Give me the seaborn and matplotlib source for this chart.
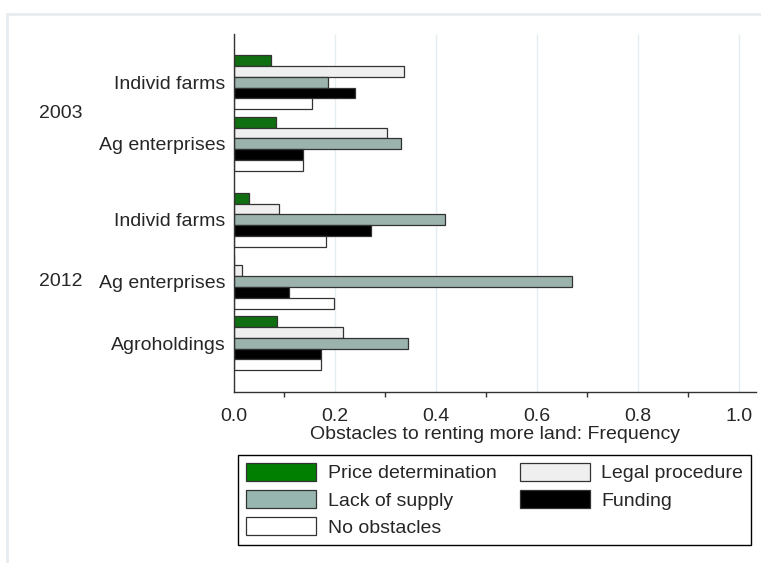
import pandas as pd
import seaborn as sns
import matplotlib.pyplot as plt
from matplotlib.patches import Patch, Rectangle
from matplotlib.ticker import MultipleLocator
from matplotlib.transforms import blended_transform_factory

# группы (сверху вниз) и их позиции по оси y
groups = ['Individ farms', 'Ag enterprises', 'Individ farms', 'Ag enterprises', 'Agroholdings']
group_pos = [0.0, 1.0, 2.23, 3.23, 4.23]
years = ['2003', '2012']

obstacles = ['Price determination', 'Legal procedure', 'Lack of supply', 'Funding', 'No obstacles']
price_determination = [0.073, 0.084, 0.030, 0.0, 0.086]
legal_procedure = [0.337, 0.303, 0.090, 0.017, 0.217]
lack_of_supply = [0.187, 0.331, 0.419, 0.669, 0.346]
funding = [0.241, 0.137, 0.272, 0.110, 0.173]
no_obstacles = [0.156, 0.137, 0.183, 0.199, 0.173]

colors = ['#007f00', '#efefef', '#97b6af', '#000000', '#ffffff']

sns.set_style('white')
plt.rcParams['font.family'] = ['Liberation Sans', 'DejaVu Sans']
plt.rcParams['font.size'] = 14

rows = []
for name, vals in zip(obstacles, [price_determination, legal_procedure,
                                  lack_of_supply, funding, no_obstacles]):
    for pos, v in zip(group_pos, vals):
        rows.append({'pos': pos, 'freq': v, 'obstacle': name})
data_frame = pd.DataFrame(rows)

fig = plt.figure(figsize=(7.61, 5.63), dpi=100)
ax = fig.add_axes([233.7 / 761, 1 - 392 / 563, (756 - 233.7) / 761, (392 - 34) / 563])

sns.barplot(data=data_frame, x='freq', y='pos', hue='obstacle', hue_order=obstacles,
            orient='h', native_scale=True, width=0.875, gap=0, errorbar=None,
            palette=colors, edgecolor='#333333', linewidth=0.9, legend=False, ax=ax)

ax.set_xlim(0, 1.034)
ax.set_ylim(5.02, -0.78)
ax.xaxis.set_major_locator(MultipleLocator(0.2))
ax.xaxis.set_minor_locator(MultipleLocator(0.1))
ax.xaxis.set_major_formatter(plt.FuncFormatter(lambda v, p: f'{v:.1f}'))
ax.tick_params(axis='x', which='major', length=5, width=1, color='#333333', pad=6.5, labelsize=14)
ax.tick_params(axis='x', which='minor', length=3.6, width=1, color='#333333', bottom=True)
ax.set_yticks(group_pos, groups)
ax.tick_params(axis='y', length=0, pad=6, labelsize=14)
ax.grid(axis='x', which='major', color='#e6edf1', linewidth=1)
ax.set_axisbelow(True)
for side in ['top', 'right']:
    ax.spines[side].set_visible(False)
for side in ['left', 'bottom']:
    ax.spines[side].set_color('#333333')
    ax.spines[side].set_linewidth(1)
ax.set_xlabel('Obstacles to renting more land: Frequency', fontsize=14, labelpad=1)
ax.set_ylabel('')

# подписи годов слева
trans = blended_transform_factory(fig.transFigure, ax.transData)
ax.text(83 / 761, (group_pos[0] + group_pos[1]) / 2, years[0], transform=trans,
        ha='right', va='center', fontsize=14)
ax.text(83 / 761, group_pos[3], years[1], transform=trans,
        ha='right', va='center', fontsize=14)

# легенда: первый столбец Price/Lack/No, второй Legal/Funding
handles = [Patch(facecolor=c, edgecolor='#333333', linewidth=0.9, label=n)
           for n, c in zip(obstacles, colors)]
order = [0, 2, 4, 1, 3]
fig.legend([handles[i] for i in order], [obstacles[i] for i in order],
           loc='upper center', bbox_to_anchor=(494.5 / 761, 1 - 455 / 563),
           ncol=2, fontsize=14, frameon=True, fancybox=False, edgecolor='black',
           framealpha=1, handlelength=3.6, handleheight=1.03, handletextpad=0.6,
           labelspacing=0.4, columnspacing=1.2, borderpad=0.4, borderaxespad=0)

# внешняя рамка графика
fig.patches.append(Rectangle((7 / 761, -0.05), 1.1, 1 - 14 / 563 + 0.05,
                             transform=fig.transFigure, fill=False,
                             edgecolor='#e6edf1', linewidth=2))

fig.savefig('out.png', dpi=100)
